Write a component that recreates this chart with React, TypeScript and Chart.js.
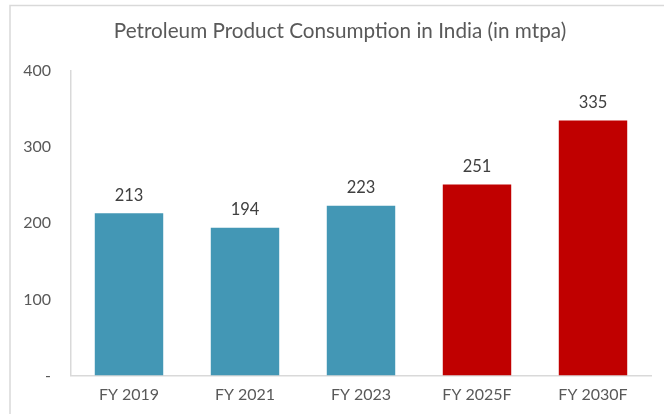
import React, { useEffect, useRef } from "react";
import { Chart, registerables } from "chart.js";

Chart.register(...registerables);

const title = "Petroleum Product Consumption in India (in mtpa)";
const categories = ["FY 2019", "FY 2021", "FY 2023", "FY 2025F", "FY 2030F"];
const values = [213, 194, 223, 251, 335];
const barColors = ["#4397B5", "#4397B5", "#4397B5", "#C00000", "#C00000"];
const yTicks = [0, 100, 200, 300, 400];

const FONT = "Lato, 'Open Sans', sans-serif";

const decorPlugin = {
  id: "decor",
  beforeDraw(chart: any) {
    const ctx = chart.ctx;
    ctx.save();
    ctx.strokeStyle = "#D9D9D9";
    ctx.lineWidth = 1.5;
    ctx.beginPath();
    ctx.moveTo(10, 414);
    ctx.lineTo(10, 5.5);
    ctx.lineTo(664, 5.5);
    ctx.stroke();
    ctx.fillStyle = "#595959";
    ctx.font = `20.7px ${FONT}`;
    ctx.textAlign = "center";
    ctx.textBaseline = "middle";
    ctx.fillText(title, 340, 31);
    ctx.restore();
  },
  afterDatasetsDraw(chart: any) {
    const ctx = chart.ctx;
    const meta = chart.getDatasetMeta(0);
    ctx.save();
    ctx.fillStyle = "#404040";
    ctx.font = `16.5px ${FONT}`;
    ctx.textAlign = "center";
    ctx.textBaseline = "middle";
    meta.data.forEach((bar: any, i: number) => {
      ctx.fillText(String(values[i]), bar.x, bar.y - 18);
    });
    ctx.restore();
  },
};

export default function App() {
  const ref = useRef<HTMLCanvasElement>(null);
  useEffect(() => {
    const chart = new Chart(ref.current as HTMLCanvasElement, {
      type: "bar",
      data: {
        labels: categories,
        datasets: [
          {
            data: values,
            backgroundColor: barColors,
            borderWidth: 0,
            categoryPercentage: 1,
            barPercentage: 0.59,
          },
        ],
      },
      options: {
        animation: false,
        responsive: false,
        layout: { padding: { left: 0, top: 71, right: 13, bottom: 0 } },
        plugins: { legend: { display: false }, tooltip: { enabled: false }, title: { display: false } },
        scales: {
          x: {
            grid: { display: false, drawTicks: false },
            border: { display: true, color: "#D9D9D9", width: 1.5 },
            ticks: { color: "#595959", font: { family: FONT, size: 16 }, padding: 10 },
            afterFit(scale: any) {
              scale.height = 38.5;
            },
          },
          y: {
            min: 0,
            max: 400,
            grid: { display: false, drawTicks: false },
            border: { display: true, color: "#D9D9D9", width: 1.5 },
            afterBuildTicks(scale: any) {
              scale.ticks = yTicks.map((v) => ({ value: v }));
            },
            ticks: {
              color: "#595959",
              font: { family: FONT, size: 16 },
              padding: 20,
              callback: (v: any) => (Number(v) === 0 ? "-" : String(v)),
            },
            afterFit(scale: any) {
              scale.width = 71;
            },
          },
        },
      },
      plugins: [decorPlugin],
    });
    return () => chart.destroy();
  }, []);
  return (
    <div style={{ position: "absolute", left: 0, top: 0, width: 664, height: 414, background: "#fff" }}>
      <canvas ref={ref} width={664} height={414} style={{ width: 664, height: 414 }} />
    </div>
  );
}
